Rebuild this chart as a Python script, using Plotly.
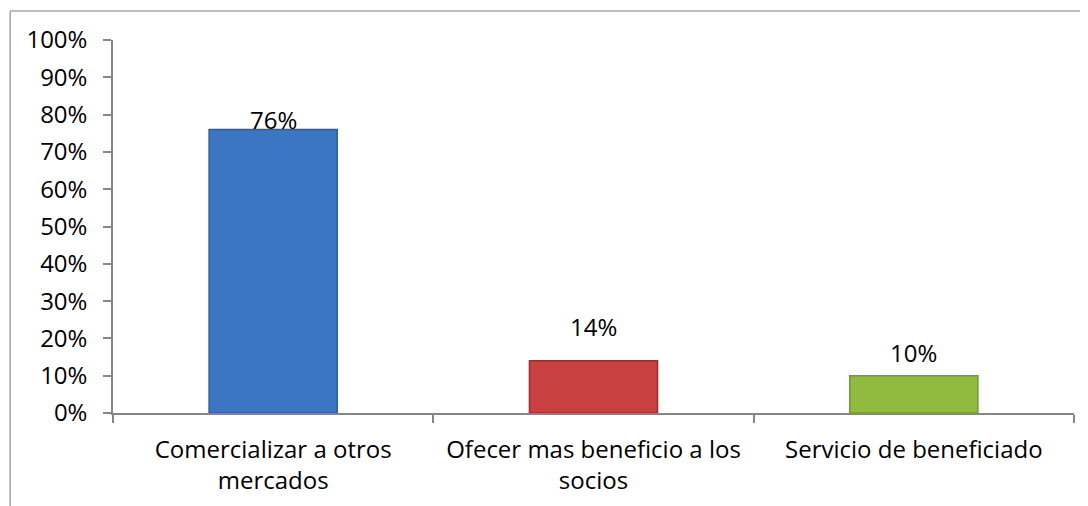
import plotly.graph_objects as go

categories = ["Comercializar a otros<br>mercados", "Ofecer mas beneficio a los<br>socios", "Servicio de beneficiado"]
values = [0.76, 0.14, 0.10]
value_labels = ["76%", "14%", "10%"]
tick_vals = [0, 0.1, 0.2, 0.3, 0.4, 0.5, 0.6, 0.7, 0.8, 0.9, 1.0]
tick_text = ["0%", "10%", "20%", "30%", "40%", "50%", "60%", "70%", "80%", "90%", "100%"]

bar_colors = ["#3C75C2", "#C8403F", "#8FBB3E"]
edge_colors = ["#2F5E9E", "#9C2E2E", "#729A2E"]
label_shift = [10, 34, 23]  # Excel placed the labels a bit unevenly

fig = go.Figure(
    go.Bar(
        x=categories,
        y=values,
        width=0.4,
        marker=dict(color=bar_colors, line=dict(color=edge_colors, width=1.5)),
        hoverinfo="skip",
    )
)

for cat, val, lab, dy in zip(categories, values, value_labels, label_shift):
    fig.add_annotation(
        x=cat, y=val, text=lab, showarrow=False, yshift=dy,
        font=dict(size=24, color="#000000"),
    )

# chart border (partly outside the visible window)
border = dict(color="#A6A6A6", width=1.5)
fig.add_shape(type="line", xref="paper", yref="paper",
              x0=-0.107, x1=1.05, y0=1.078, y1=1.078, line=border)
fig.add_shape(type="line", xref="paper", yref="paper",
              x0=-0.107, x1=-0.107, y0=1.078, y1=-0.35, line=border)

fig.update_layout(
    width=1088,
    height=506,
    margin=dict(l=105, r=22, t=32, b=101),
    paper_bgcolor="white",
    plot_bgcolor="white",
    font=dict(family="Open Sans, sans-serif", size=24, color="#000000"),
    showlegend=False,
)
fig.update_yaxes(
    range=[0, 1],
    tickvals=tick_vals,
    ticktext=tick_text,
    showgrid=False,
    zeroline=False,
    showline=True,
    linecolor="#868686",
    linewidth=1.5,
    ticks="outside",
    ticklen=8,
    tickcolor="#868686",
    tickwidth=1.5,
    ticklabelstandoff=11,
)
fig.update_xaxes(
    showgrid=False,
    showline=True,
    linecolor="#868686",
    linewidth=1.5,
    ticks="outside",
    tickson="boundaries",
    ticklen=8,
    tickcolor="#868686",
    tickwidth=1.5,
    ticklabelstandoff=14,
)

fig.write_html("out.html")
